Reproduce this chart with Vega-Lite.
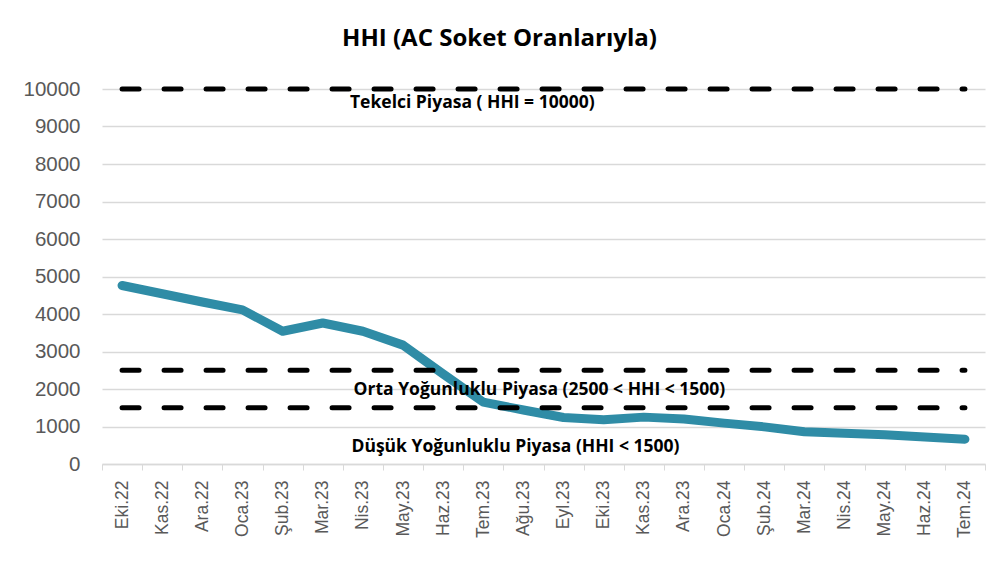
{
  "$schema": "https://vega.github.io/schema/vega-lite/v6.json",
  "autosize": "none",
  "width": 883,
  "height": 375,
  "padding": {"left": 102, "top": 89, "right": 13, "bottom": 105},
  "background": "white",
  "title": {"text": "HHI (AC Soket Oranlarıyla)", "fontSize": 24, "font": "Open Sans", "fontWeight": "bold", "color": "#000000", "anchor": "middle", "offset": 28, "dx": -44},
  "config": {
    "view": {"stroke": null}, "font": "Open Sans",
    "axisX": {
      "title": null, "labelAngle": -90, "labelFontSize": 17.5, "labelColor": "#595959", "labelFont": "Liberation Sans",
      "labelPadding": 10, "grid": false, "domainColor": "#d9d9d9", "domainWidth": 1.5,
      "tickColor": "#d9d9d9", "tickSize": 6, "tickBand": "extent", "labelBaseline": "middle", "labelAlign": "right"
    },
    "axisY": {
      "title": null, "labelOverlap": false, "format": "d", "labelFontSize": 20.5, "labelColor": "#595959", "labelFont": "Liberation Sans",
      "labelPadding": 22, "domain": false, "ticks": false, "gridColor": "#d9d9d9", "gridWidth": 1.5
    }
  },
  "datasets": {
    "hhi": [
      {"ay": "Eki.22", "hhi": 4760},
      {"ay": "Kas.22", "hhi": 4540},
      {"ay": "Ara.22", "hhi": 4320},
      {"ay": "Oca.23", "hhi": 4110},
      {"ay": "Şub.23", "hhi": 3540},
      {"ay": "Mar.23", "hhi": 3760},
      {"ay": "Nis.23", "hhi": 3540},
      {"ay": "May.23", "hhi": 3170},
      {"ay": "Haz.23", "hhi": 2400},
      {"ay": "Tem.23", "hhi": 1650},
      {"ay": "Ağu.23", "hhi": 1440},
      {"ay": "Eyl.23", "hhi": 1240},
      {"ay": "Eki.23", "hhi": 1180},
      {"ay": "Kas.23", "hhi": 1250},
      {"ay": "Ara.23", "hhi": 1200},
      {"ay": "Oca.24", "hhi": 1090},
      {"ay": "Şub.24", "hhi": 990},
      {"ay": "Mar.24", "hhi": 860},
      {"ay": "Nis.24", "hhi": 820},
      {"ay": "May.24", "hhi": 780},
      {"ay": "Haz.24", "hhi": 720},
      {"ay": "Tem.24", "hhi": 660}
    ],
    "esik": [
      {"bas": "Eki.22", "son": "Tem.24", "deger": 10000},
      {"bas": "Eki.22", "son": "Tem.24", "deger": 2500},
      {"bas": "Eki.22", "son": "Tem.24", "deger": 1500}
    ]
  },
  "layer": [
    {
      "data": {"name": "hhi"},
      "mark": {"type": "line", "color": "#2F8CA6", "strokeWidth": 9, "strokeCap": "round", "strokeJoin": "round"},
      "encoding": {
        "x": {"field": "ay", "type": "nominal", "sort": null, "scale": {"type": "band", "paddingInner": 0, "paddingOuter": 0}},
        "y": {"field": "hhi", "type": "quantitative", "scale": {"domain": [0, 10000], "nice": false},
              "axis": {"values": [0,1000,2000,3000,4000,5000,6000,7000,8000,9000,10000]}}
      }
    },
    {
      "data": {"name": "esik"},
      "mark": {"type": "rule", "color": "#000000", "strokeWidth": 5, "strokeDash": [17, 25], "strokeCap": "round"},
      "encoding": {
        "x": {"field": "bas", "type": "nominal", "sort": null},
        "x2": {"field": "son"},
        "y": {"field": "deger", "type": "quantitative", "axis": {"values": [0,1000,2000,3000,4000,5000,6000,7000,8000,9000,10000]}}
      }
    },
    {
      "data": {"values": [{"ay": "Tem.23", "y": 9630, "t": "Tekelci Piyasa ( HHI = 10000)"}]},
      "mark": {"type": "text", "fontSize": 17.5, "fontWeight": "bold", "font": "Open Sans", "color": "#000000", "align": "center", "baseline": "middle", "dx": -11},
      "encoding": {"x": {"field": "ay", "type": "nominal", "sort": null}, "y": {"field": "y", "type": "quantitative", "axis": {"values": [0,1000,2000,3000,4000,5000,6000,7000,8000,9000,10000]}}, "text": {"field": "t"}}
    },
    {
      "data": {"values": [{"ay": "Ağu.23", "y": 1970, "t": "Orta Yoğunluklu Piyasa (2500 < HHI < 1500)"}]},
      "mark": {"type": "text", "fontSize": 17.5, "fontWeight": "bold", "font": "Open Sans", "color": "#000000", "align": "center", "baseline": "middle", "dx": 16},
      "encoding": {"x": {"field": "ay", "type": "nominal", "sort": null}, "y": {"field": "y", "type": "quantitative", "axis": {"values": [0,1000,2000,3000,4000,5000,6000,7000,8000,9000,10000]}}, "text": {"field": "t"}}
    },
    {
      "data": {"values": [{"ay": "Ağu.23", "y": 450, "t": "Düşük Yoğunluklu Piyasa (HHI < 1500)"}]},
      "mark": {"type": "text", "fontSize": 17.5, "fontWeight": "bold", "font": "Open Sans", "color": "#000000", "align": "center", "baseline": "middle", "dx": -8},
      "encoding": {"x": {"field": "ay", "type": "nominal", "sort": null}, "y": {"field": "y", "type": "quantitative", "axis": {"values": [0,1000,2000,3000,4000,5000,6000,7000,8000,9000,10000]}}, "text": {"field": "t"}}
    }
  ]
}
